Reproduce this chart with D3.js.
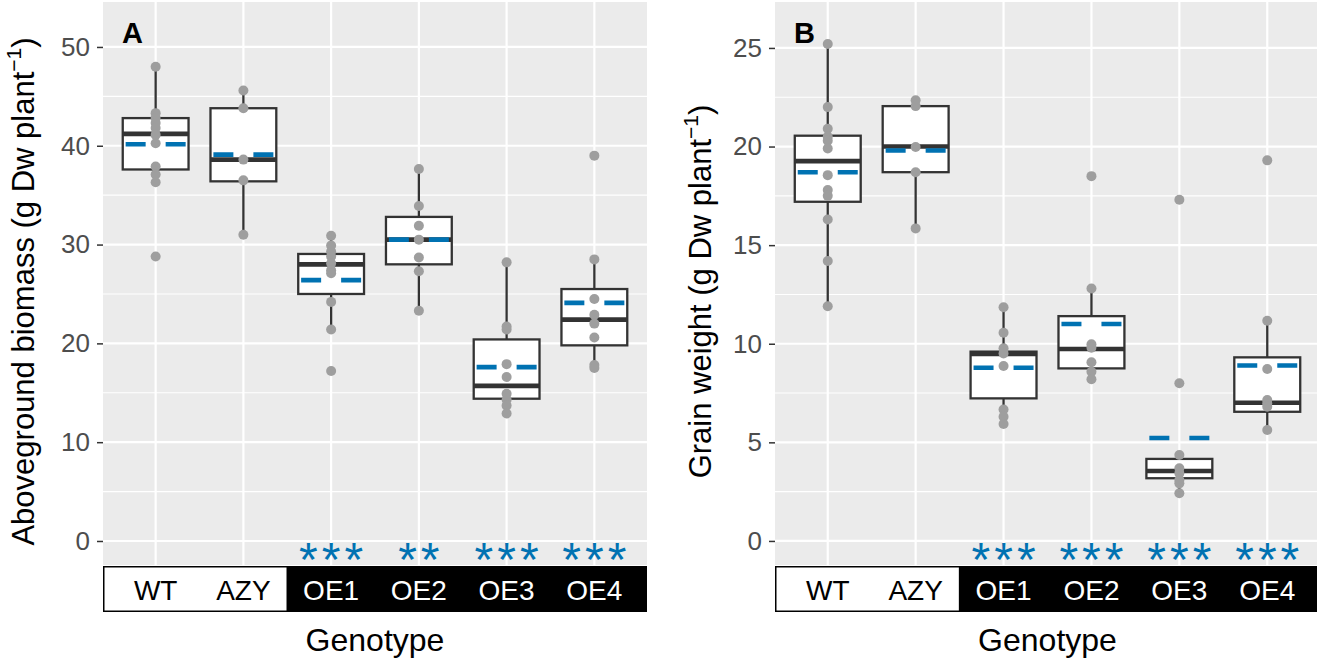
<!DOCTYPE html>
<html>
<head>
<meta charset="utf-8">
<script src="https://cdn.jsdelivr.net/npm/d3@7"></script>
<style>
  body { margin: 0; background: #fff; }
  text { font-family: "Liberation Sans", Arial, sans-serif; }
</style>
</head>
<body>
<script>
var genotypes = ["WT", "AZY", "OE1", "OE2", "OE3", "OE4"];

// raw plant values
var biomassPoints = [
    [48.0, 43.3, 42.8, 42.3, 41.8, 41.1, 40.25, 37.9, 37.1, 36.3, 28.8],
    [45.6, 43.8, 38.6, 36.5, 31.0],
    [30.9, 29.9, 29.3, 28.8, 28.1, 27.4, 27.1, 24.2, 21.4, 17.2],
    [37.65, 33.9, 31.9, 30.5, 28.7, 27.3, 23.3],
    [28.2, 21.7, 21.4, 17.9, 16.6, 14.9, 14.3, 13.7, 12.9],
    [39.0, 28.5, 24.5, 22.9, 22.0, 20.6, 17.8, 17.5]
];
// lower whisker, q1, median, q3, upper whisker, mean
var biomassBox = [
    [36.3, 37.6, 41.2, 42.8, 48.0, 40.15],
    [31.0, 36.4, 38.6, 43.8, 45.6, 39.1],
    [21.4, 25.0, 28.0, 29.05, 30.9, 26.4],
    [23.3, 28.0, 30.5, 32.8, 37.65, 30.5],
    [12.9, 14.4, 15.7, 20.4, 28.2, 17.6],
    [17.5, 19.8, 22.4, 25.5, 28.5, 24.1]
];
var biomassStars = ["", "", "***", "**", "***", "***"];
var biomassTicks = [0, 10, 20, 30, 40, 50];
var biomassMinor = [5, 15, 25, 35, 45];

var grainPoints = [
    [25.2, 22.0, 20.9, 20.5, 20.3, 19.9, 18.55, 17.8, 17.5, 16.3, 14.2, 11.9],
    [22.35, 22.05, 19.98, 18.7, 15.85],
    [11.85, 10.56, 9.77, 9.51, 8.87, 6.67, 6.3, 5.93],
    [18.5, 12.8, 9.97, 9.8, 9.06, 8.58, 8.2],
    [17.3, 8.0, 4.36, 3.68, 3.43, 3.09, 2.92, 2.42],
    [19.3, 11.17, 8.72, 7.15, 6.98, 6.81, 5.63]
];
var grainBox = [
    [11.9, 17.2, 19.26, 20.55, 25.2, 18.7],
    [15.85, 18.7, 20.0, 22.05, 22.35, 19.8],
    [5.93, 7.23, 9.48, 9.6, 11.85, 8.78],
    [8.2, 8.75, 9.73, 11.4, 12.8, 11.0],
    [2.42, 3.18, 3.55, 4.16, 4.36, 5.22],
    [5.63, 6.55, 7.01, 9.31, 11.17, 8.9]
];
var grainStars = ["", "", "***", "***", "***", "***"];
var grainTicks = [0, 5, 10, 15, 20, 25];
var grainMinor = [2.5, 7.5, 12.5, 17.5, 22.5];

var WIDTH = 1317, HEIGHT = 661;
var TOP = 2, BOTTOM = 565;
var BLUE = "#0072B2", DARK = "#333333";

var svg = d3.select("body").append("svg")
    .attr("width", WIDTH)
    .attr("height", HEIGHT);

function drawPanel(p) {
    var x = d3.scalePoint().domain(genotypes).range([p.left, p.right]).padding(0.6);
    var y = d3.scaleLinear().domain(p.domain).range([BOTTOM, TOP]);
    var step = x.step();
    var bw = step * 0.75;
    var g = svg.append("g");

    g.append("rect")
        .attr("x", p.left).attr("y", TOP)
        .attr("width", p.right - p.left).attr("height", BOTTOM - TOP)
        .attr("fill", "#EBEBEB");

    g.selectAll(".minor").data(p.minor).enter().append("line")
        .attr("x1", p.left).attr("x2", p.right)
        .attr("y1", function (d) { return y(d); }).attr("y2", function (d) { return y(d); })
        .attr("stroke", "#fff").attr("stroke-width", 1.1);
    g.selectAll(".major").data(p.ticks).enter().append("line")
        .attr("x1", p.left).attr("x2", p.right)
        .attr("y1", function (d) { return y(d); }).attr("y2", function (d) { return y(d); })
        .attr("stroke", "#fff").attr("stroke-width", 2.2);
    g.selectAll(".vgrid").data(genotypes).enter().append("line")
        .attr("x1", function (d) { return x(d); }).attr("x2", function (d) { return x(d); })
        .attr("y1", TOP).attr("y2", BOTTOM)
        .attr("stroke", "#fff").attr("stroke-width", 2.2);

    var boxes = genotypes.map(function (k, i) { return { k: k, s: p.box[i] }; });

    // whiskers
    g.selectAll(".wh").data(boxes).enter().append("line")
        .attr("x1", function (d) { return x(d.k); }).attr("x2", function (d) { return x(d.k); })
        .attr("y1", function (d) { return y(d.s[4]); }).attr("y2", function (d) { return y(d.s[3]); })
        .attr("stroke", DARK).attr("stroke-width", 2.3);
    g.selectAll(".wl").data(boxes).enter().append("line")
        .attr("x1", function (d) { return x(d.k); }).attr("x2", function (d) { return x(d.k); })
        .attr("y1", function (d) { return y(d.s[1]); }).attr("y2", function (d) { return y(d.s[0]); })
        .attr("stroke", DARK).attr("stroke-width", 2.3);
    g.selectAll(".box").data(boxes).enter().append("rect")
        .attr("x", function (d) { return x(d.k) - bw / 2; })
        .attr("y", function (d) { return y(d.s[3]); })
        .attr("width", bw)
        .attr("height", function (d) { return y(d.s[1]) - y(d.s[3]); })
        .attr("fill", "#fff").attr("stroke", DARK).attr("stroke-width", 2.3);
    g.selectAll(".med").data(boxes).enter().append("line")
        .attr("x1", function (d) { return x(d.k) - bw / 2; })
        .attr("x2", function (d) { return x(d.k) + bw / 2; })
        .attr("y1", function (d) { return y(d.s[2]); }).attr("y2", function (d) { return y(d.s[2]); })
        .attr("stroke", DARK).attr("stroke-width", 4.6);
    g.selectAll(".mean").data(boxes).enter().append("line")
        .attr("x1", function (d) { return x(d.k) - 30; })
        .attr("x2", function (d) { return x(d.k) + 30; })
        .attr("y1", function (d) { return y(d.s[5]); }).attr("y2", function (d) { return y(d.s[5]); })
        .attr("stroke", BLUE).attr("stroke-width", 4.6)
        .attr("stroke-dasharray", "20,20");

    var pts = [];
    genotypes.forEach(function (k, i) {
        p.points[i].forEach(function (v) { pts.push({ k: k, v: v }); });
    });
    g.selectAll(".pt").data(pts).enter().append("circle")
        .attr("cx", function (d) { return x(d.k); })
        .attr("cy", function (d) { return y(d.v); })
        .attr("r", 5)
        .attr("fill", "#9E9E9E");

    g.selectAll(".star").data(genotypes).enter().append("text")
        .attr("x", function (d) { return x(d) + 2; })
        .attr("y", 576)
        .attr("text-anchor", "middle")
        .attr("font-size", 48)
        .attr("letter-spacing", 4)
        .attr("fill", BLUE)
        .text(function (d, i) { return p.stars[i]; });

    // y axis
    var ax = g.append("g")
        .attr("transform", "translate(" + p.left + ",0)")
        .call(d3.axisLeft(y).tickValues(p.ticks).tickSize(6).tickPadding(7));
    ax.select(".domain").remove();
    ax.selectAll(".tick line").attr("stroke", DARK).attr("stroke-width", 1.5);
    ax.selectAll(".tick text")
        .attr("fill", "#4D4D4D")
        .style("font-size", "26px")
        .style("font-family", "'Liberation Sans', Arial, sans-serif");

    // genotype strip under the panel
    var mid = (x("AZY") + x("OE1")) / 2;
    g.append("rect")
        .attr("x", mid).attr("y", 566)
        .attr("width", p.right - mid).attr("height", 46)
        .attr("fill", "#000");
    g.append("rect")
        .attr("x", p.left + 0.75).attr("y", 566.75)
        .attr("width", mid - p.left - 0.75).attr("height", 44.5)
        .attr("fill", "#fff").attr("stroke", "#000").attr("stroke-width", 1.5);
    g.selectAll(".lab").data(genotypes).enter().append("text")
        .attr("x", function (d) { return x(d); })
        .attr("y", 600)
        .attr("text-anchor", "middle")
        .attr("font-size", 28)
        .attr("fill", function (d, i) { return i < 2 ? "#000" : "#fff"; })
        .text(function (d) { return d; });

    g.append("text")
        .attr("x", (p.left + p.right) / 2)
        .attr("y", 651)
        .attr("text-anchor", "middle")
        .attr("font-size", 32)
        .text("Genotype");

    var yt = g.append("text")
        .attr("transform", "translate(" + p.titleX + "," + ((TOP + BOTTOM) / 2 + 8) + ") rotate(-90)")
        .attr("text-anchor", "middle")
        .attr("font-size", 31);
    yt.append("tspan").text(p.title + " (g Dw plant");
    yt.append("tspan").attr("dy", -13).attr("font-size", 21).text("\u22121");
    yt.append("tspan").attr("dy", 13).text(")");

    g.append("text")
        .attr("x", p.left + 19)
        .attr("y", 43)
        .attr("font-size", 29)
        .attr("font-weight", "bold")
        .text(p.letter);
}

drawPanel({
    left: 103, right: 647, domain: [-2.43, 54.55],
    ticks: biomassTicks, minor: biomassMinor,
    points: biomassPoints, box: biomassBox, stars: biomassStars,
    title: "Aboveground biomass", titleX: 34, letter: "A"
});
drawPanel({
    left: 775, right: 1320, domain: [-1.22, 27.33],
    ticks: grainTicks, minor: grainMinor,
    points: grainPoints, box: grainBox, stars: grainStars,
    title: "Grain weight", titleX: 711, letter: "B"
});
</script>
</body>
</html>
